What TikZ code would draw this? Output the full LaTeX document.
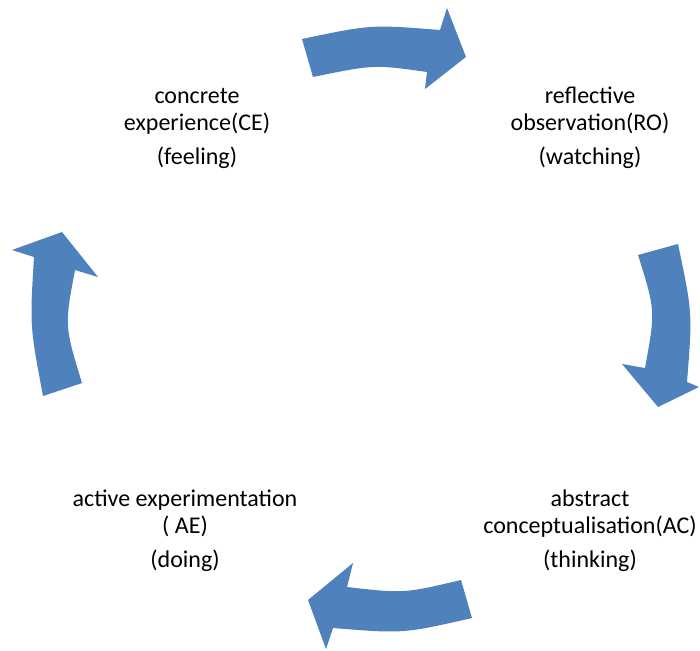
\documentclass[tikz,border=0pt]{standalone}
\usepackage{fontspec}
\setmainfont{Carlito}
\definecolor{cycleblue}{RGB}{79,129,189}

\begin{document}
\begin{tikzpicture}[x=1pt,y=-1pt,
    lbl/.style={align=center,font=\fontsize{24}{27}\selectfont,inner sep=0pt},
    blockarrow/.style={fill=cycleblue,draw=none}]
    \useasboundingbox (0,0) rectangle (700,650);

    % the four stages of the cycle
    \node [lbl] (ce) at (197,128) {concrete\\experience(CE)\\[7pt](feeling)};
    \node [lbl] (ro) at (590,128) {reflective\\observation(RO)\\[7pt](watching)};
    \node [lbl] (ac) at (590,531) {abstract\\conceptualisation(AC)\\[7pt](thinking)};
    \node [lbl] (ae) at (185,531) {active experimentation\\( AE)\\[7pt](doing)};

    % curved block arrows, clockwise
    \fill [blockarrow] (302,39) .. controls (371,24.5) .. (440,30)
        -- (447,8) -- (466,57) -- (425,89) -- (427,72)
        .. controls (374,64.5) .. (313,77) -- cycle;
    \fill [blockarrow] (678,244) .. controls (692.5,313) .. (687,382)
        -- (699,387) -- (658,407) -- (622,364) -- (645,368)
        .. controls (655.5,310.8) .. (638,255) -- cycle;
    \fill [blockarrow] (472,618) -- (461,580)
        .. controls (404,593.5) .. (347,587)
        -- (353,563) -- (308,600) -- (326,649) -- (333,628)
        .. controls (403.2,633.7) .. cycle;
    \fill [blockarrow] (43,396) -- (82,383)
        .. controls (64.5,325.8) .. (75,270)
        -- (98,277) -- (62,232) -- (12,250) -- (34,257)
        .. controls (29.8,325.8) .. cycle;
\end{tikzpicture}
\end{document}
